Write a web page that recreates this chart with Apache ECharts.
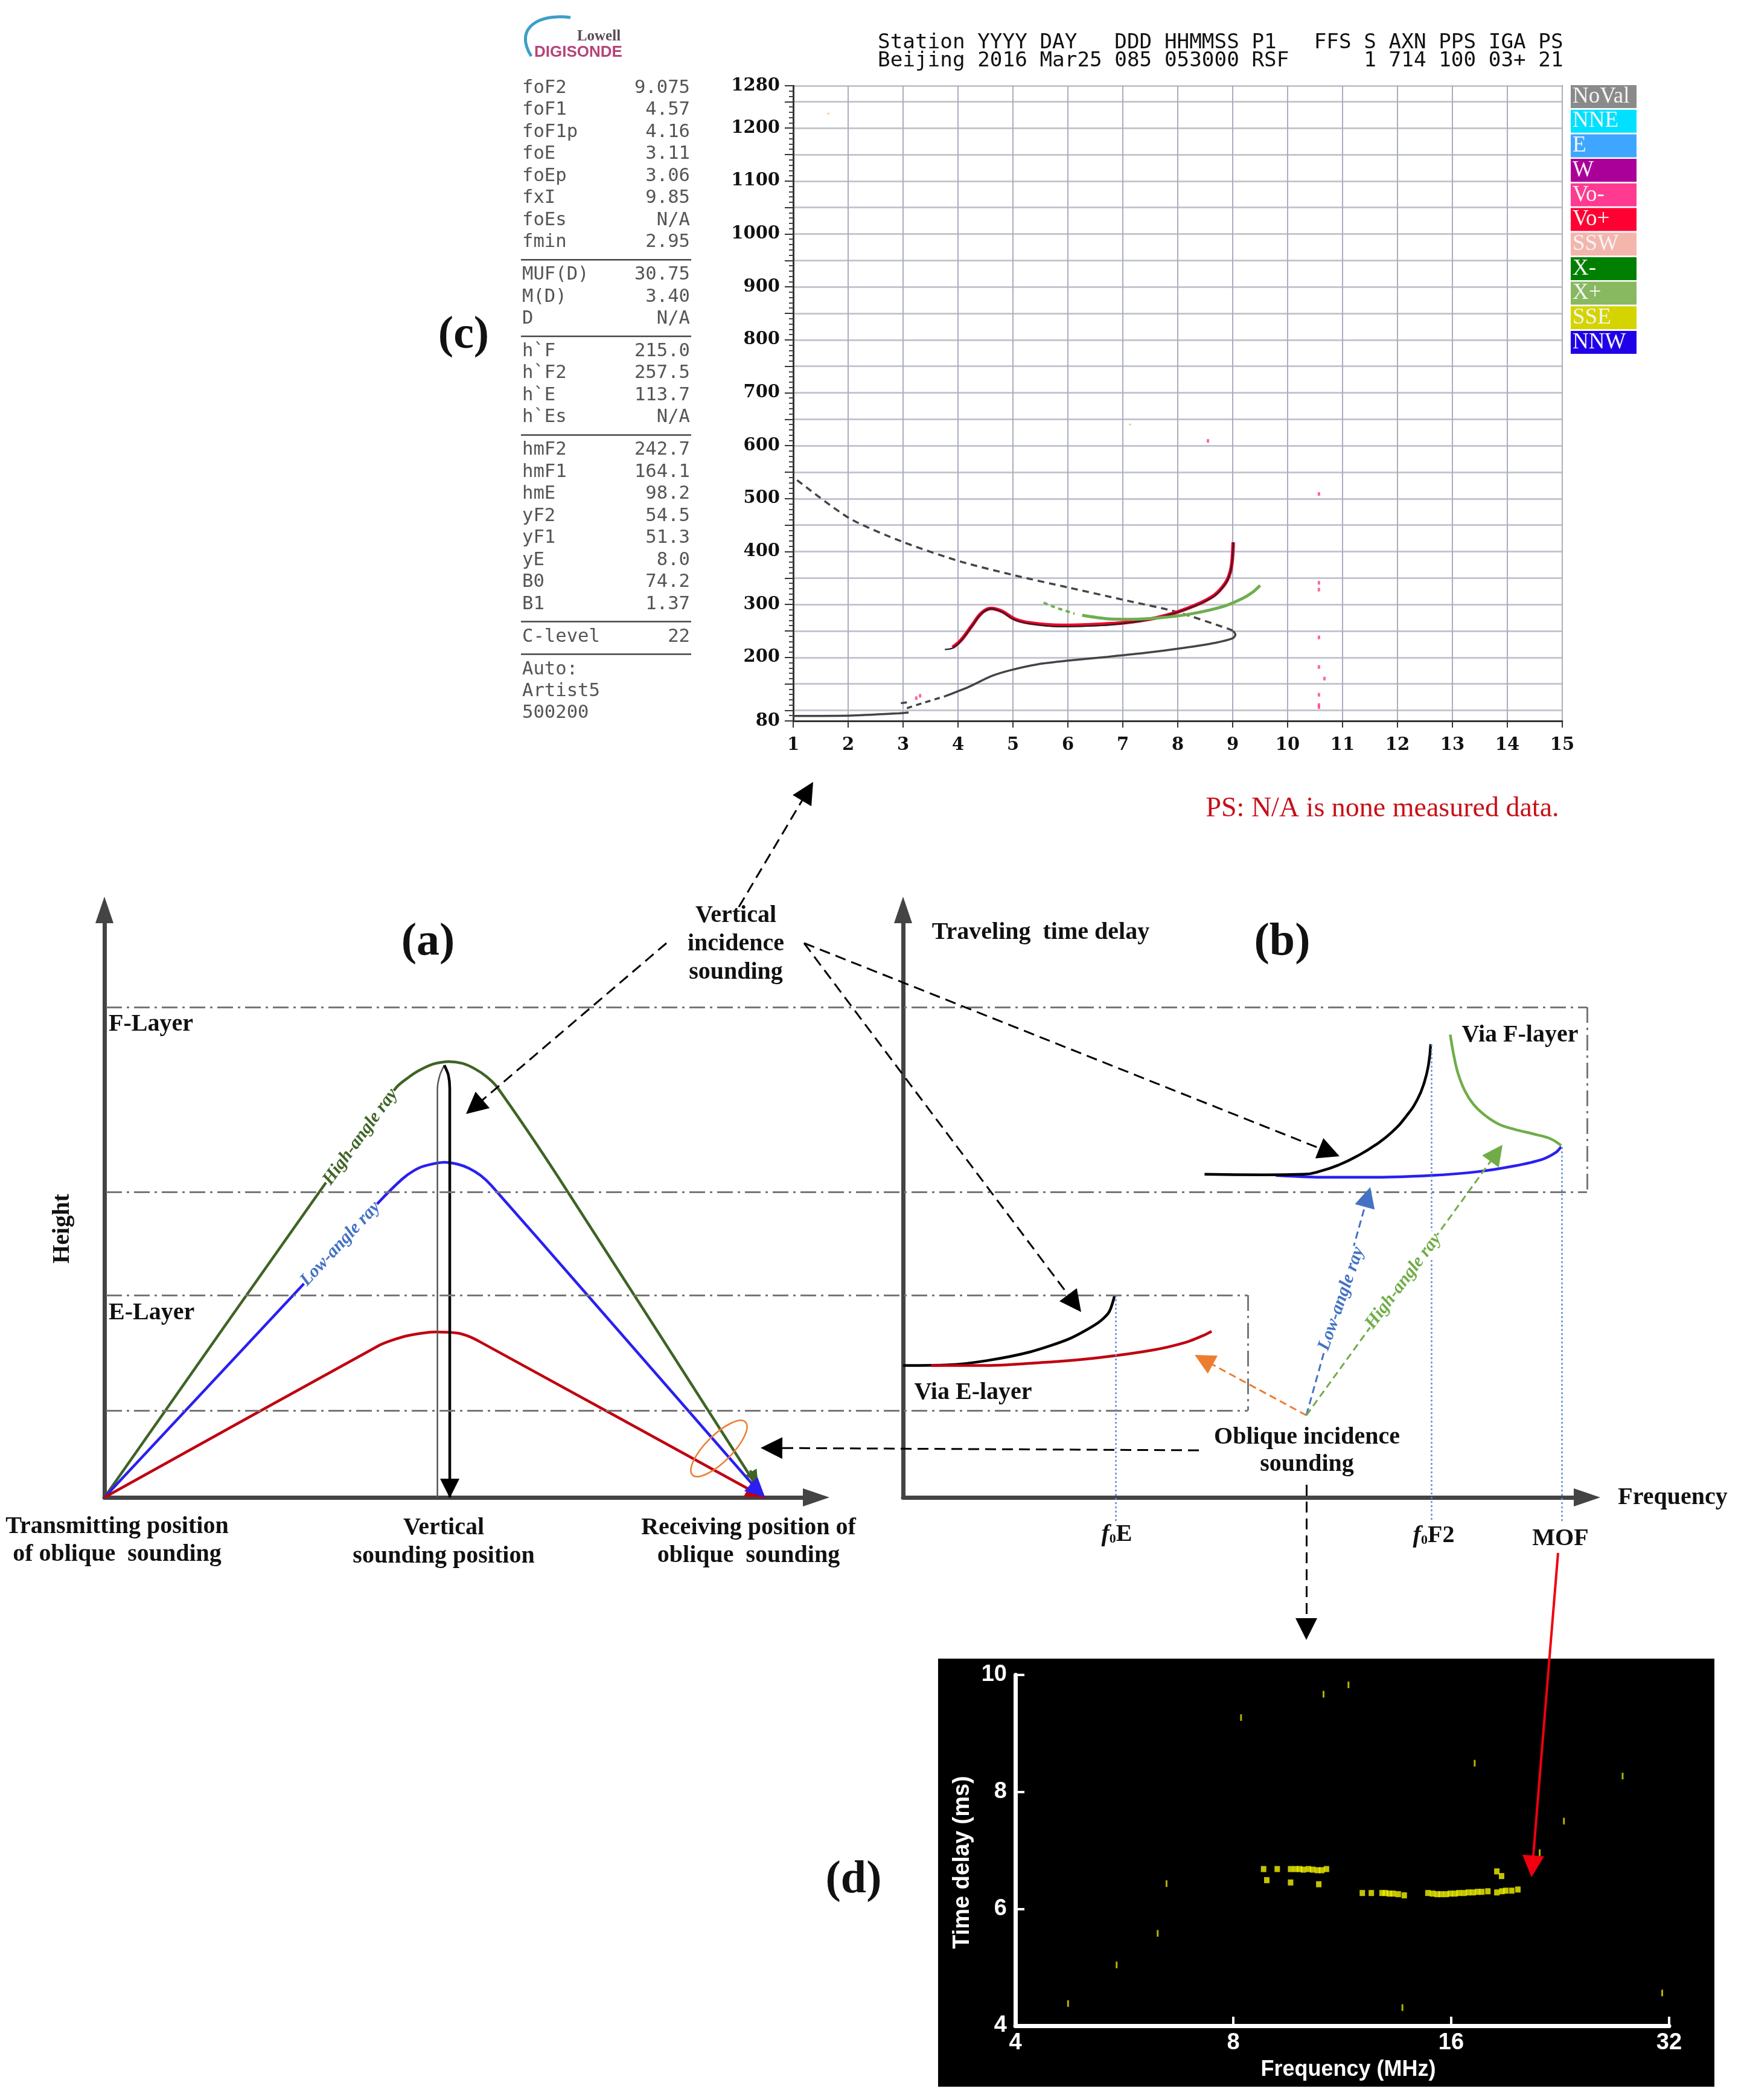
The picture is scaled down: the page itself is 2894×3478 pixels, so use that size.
<!DOCTYPE html>
<html>
<head>
<meta charset="utf-8">
<title>Ionospheric sounding</title>
<script src="https://cdn.jsdelivr.net/npm/echarts@6/dist/echarts.min.js"></script>
<style>
  html, body { margin: 0; background: #fff; }
  #chart { width: 2894px; height: 3478px; }
</style>
</head>
<body>
<div id="chart"></div>
<script>
// (c) ionogram: frequency MHz, virtual height km
const cFreqTicks = [1, 15];
const cHeightLabels = [80, 200, 300, 400, 500, 600, 700, 800, 900, 1000, 1100, 1200, 1280];
const cHeightGrid = [80, 100, 150, 200, 250, 300, 350, 400, 450, 500, 550, 600, 650, 700, 750, 800, 850, 900, 950, 1000, 1050, 1100, 1150, 1200, 1250, 1280];
const cEstimate = [[1.07, 535], [2.02, 463], [3, 418], [4.05, 381], [5.03, 355], [6.01, 332], [7, 309], [7.98, 286], [8.92, 254], [9.01, 250]];
const cProfileLow = [[1, 89.5], [2.02, 90], [2.93, 94.4], [3.1, 96]];
const cProfileGap = [[3.07, 104], [3.35, 113.5], [3.77, 126.8]];
const cProfileHigh = [[3.77, 126.8], [4.19, 144], [4.61, 164.8], [4.96, 176], [5.45, 187], [6.01, 194], [6.71, 201], [7.41, 208.5], [8.11, 218], [8.68, 227.5], [9, 236], [9.05, 243], [9.01, 250]];
const cETrace = [[2.96, 113.5], [3.07, 115]];
const cORay = [[3.76, 215], [3.91, 218], [4.05, 231], [4.26, 260], [4.43, 283], [4.61, 292], [4.79, 286.4], [5.03, 271], [5.31, 263.6], [5.87, 258], [6.57, 260], [7.06, 265], [7.55, 273], [7.97, 284.5], [8.33, 298], [8.5, 306], [8.68, 317], [8.8, 330], [8.9, 345], [8.96, 362], [8.99, 381], [9.01, 417.6]];
const cOEcho = [[3.9, 219], [4.05, 232], [4.26, 261], [4.43, 284], [4.6, 292.5], [4.8, 287], [5.03, 272.5], [5.31, 265], [5.87, 260.5], [6.57, 262.5], [7.06, 266], [7.55, 273.5], [7.97, 285], [8.33, 299], [8.5, 307], [8.68, 318.5], [8.8, 331], [8.9, 346], [8.96, 363], [8.99, 382], [9.01, 417.6]];
const cXRayDashed = [[5.56, 303.6], [5.73, 296], [6.12, 282.6]];
const cXRay = [[6.26, 279.6], [6.71, 273], [7.13, 272], [7.69, 275], [8.26, 282.6], [8.82, 296], [9.17, 311], [9.38, 324.5], [9.5, 336]];
const cVoPoints = [[10.57, 508.8], [10.57, 341], [10.57, 328], [10.57, 237.8], [10.57, 182], [10.57, 129.4], [10.57, 110], [10.57, 106], [10.67, 160], [8.55, 609], [3.24, 123], [3.31, 127.5]];
const cOtherPoints = [[1.64, 1227.5], [7.13, 640]];

const paramNames = ["foF2", "foF1", "foF1p", "foE", "foEp", "fxI", "foEs", "fmin", "MUF(D)", "M(D)", "D", "h`F", "h`F2", "h`E", "h`Es", "hmF2", "hmF1", "hmE", "yF2", "yF1", "yE", "B0", "B1", "C-level", "Auto:", "Artist5", "500200"];
const paramValues = ["9.075", "4.57", "4.16", "3.11", "3.06", "9.85", "N/A", "2.95", "30.75", "3.40", "N/A", "215.0", "257.5", "113.7", "N/A", "242.7", "164.1", "98.2", "54.5", "51.3", "8.0", "74.2", "1.37", "22", "", "", ""];
const paramRuleAfter = [7, 10, 14, 22, 23];
const legendNames = ["NoVal", "NNE", "E", "W", "Vo-", "Vo+", "SSW", "X-", "X+", "SSE", "NNW"];
const legendColors = ["#8a8a8a", "#00e1ff", "#3ea6ff", "#aa0099", "#ff3a90", "#ff0033", "#f4b5ad", "#007f00", "#88b860", "#d4d400", "#2000e8"];

// (a) ray paths: distance and height in schematic units
const aHighRay = [[0, 0], [30.2, 52], [40.2, 68.4], [41.8, 70], [43.3, 71.2], [45.3, 72.3], [47.4, 72.7], [49.3, 72.4], [51, 71.5], [52.6, 70.2], [54.1, 68.4], [62.5, 53.4], [90.8, 0]];
const aLowRay = [[0, 0], [27.2, 35.3], [37.9, 49.4], [41, 53.1], [42.6, 54.5], [44.1, 55.3], [46.8, 55.9], [48.6, 55.6], [50.2, 54.9], [51.8, 53.7], [53.3, 52], [66.4, 33.9], [90.8, 0]];
const aLowestRay = [[0, 0], [37.9, 25.4], [39.8, 26.3], [41.8, 27], [45.6, 27.6], [48.7, 27.4], [50.3, 26.8], [51.8, 25.9], [90.8, 0]];
const aVerticalUp = [[45.85, 0], [45.85, 68.2], [46.2, 70.5], [46.8, 72.1]];
const aVerticalDown = [[46.8, 72.1], [47.35, 70.5], [47.55, 68.2], [47.55, 0]];
const aArrowHighRay = [[88.9, 4.5], [89.5, 3.3]];
const aArrowLowRay = [[89, 2.25], [89.98, 1.14]];
const aArrowLowestRay = [[88.6, 1.46], [89.7, 0.73]];
const aArrowVertical = [[47.55, 6], [47.55, 1.5]];

// (b) delay against frequency in schematic units
const bEOrdinary = [[0, 22], [6.4, 22.1], [11.9, 22.8], [18.3, 24.3], [23.9, 26.5], [27.9, 29.1], [29.5, 30.9], [30.3, 33.6]];
const bELowRay = [[4, 22], [12, 22], [19.9, 22.5], [27.9, 23.3], [35.9, 24.6], [40.6, 25.9], [43, 27], [44.2, 27.7]];
const bFOrdinary = [[43.2, 53.9], [51.8, 53.8], [57.4, 53.9], [60, 54.5], [62.5, 55.5], [65, 56.9], [67.7, 58.8], [70.1, 61], [72.1, 63.6], [73.7, 66.4], [74.7, 69.3], [75.3, 72.3], [75.6, 75.6]];
const bFLowRay = [[53.4, 53.7], [59.8, 53.4], [67.7, 53.4], [75.7, 53.7], [82.1, 54.3], [87.6, 55.3], [91.6, 56.4], [93.6, 57.6], [94.3, 58.5]];
const bFHighRay = [[94.3, 58.7], [92.8, 59.8], [90.8, 60.5], [87.6, 61.4], [85.3, 62.3], [83.3, 63.8], [81.7, 65.6], [80.5, 67.8], [79.5, 70.8], [78.9, 73.8], [78.4, 77.2]];

// (d) oblique ionogram: frequency MHz, delay ms
const dFreqLabels = [4, 8, 16, 32];
const dNoise = [[4.73, 4.38], [5.52, 5.04], [6.29, 5.58], [6.47, 6.43], [8.2, 9.27], [10.66, 9.67], [11.54, 9.83], [17.24, 8.49], [27.6, 8.27], [22.9, 7.5], [21.2, 6.96], [13.7, 4.31], [31.3, 4.56]];
const dTrace = [[8.81, 6.68], [9.2, 6.68], [9.6, 6.68], [9.75, 6.68], [9.88, 6.68], [10, 6.67], [10.16, 6.68], [10.3, 6.67], [10.46, 6.66], [10.6, 6.66], [10.76, 6.68], [8.9, 6.49], [9.6, 6.45], [10.5, 6.42], [12.06, 6.27], [12.41, 6.27], [12.84, 6.27], [12.98, 6.27], [13.14, 6.26], [13.3, 6.26], [13.52, 6.25], [13.78, 6.23], [14.86, 6.27], [15.08, 6.26], [15.3, 6.25], [15.5, 6.25], [15.74, 6.25], [15.96, 6.26], [16.19, 6.26], [16.4, 6.27], [16.66, 6.27], [16.9, 6.28], [17.15, 6.28], [17.4, 6.29], [17.64, 6.29], [17.98, 6.3], [18.5, 6.28], [18.8, 6.3], [19.04, 6.31], [19.4, 6.31], [19.78, 6.33], [18.5, 6.64], [18.78, 6.56]];

const SERIF = '"Liberation Serif"';
const MONO = '"DejaVu Sans Mono"';
const SANS = '"Liberation Sans"';

function noAxis(gridIndex, min, max, inverse) {
    return { type: 'value', gridIndex: gridIndex, min: min, max: max, inverse: !!inverse, show: false };
}

// schematic axis: only the line with a filled head
function arrowAxis(gridIndex) {
    return {
        type: 'value', gridIndex: gridIndex, min: 0, max: 98,
        axisLine: { show: true, onZero: false, symbol: ['none', 'triangle'], symbolSize: [30, 44], lineStyle: { color: '#444', width: 7 } },
        axisTick: { show: false }, axisLabel: { show: false }, splitLine: { show: false }
    };
}

const C = { x: 0, y: 0 };
const A = { x: 1, y: 2 };
const B = { x: 2, y: 3 };
const D = { x: 3, y: 4 };
const O = { x: 4, y: 5 };

function curve(axes, data, color, width, extra) {
    return Object.assign({
        type: 'line', xAxisIndex: axes.x, yAxisIndex: axes.y, data: data, symbol: 'none', smooth: 0.25,
        lineStyle: { color: color, width: width }, z: 5
    }, extra || {});
}
function points(axes, data, color, size) {
    return { type: 'scatter', xAxisIndex: axes.x, yAxisIndex: axes.y, data: data, symbol: 'rect', symbolSize: size, itemStyle: { color: color }, z: 6 };
}
// pull the end back by half of the head, the symbol is centred on the point
function arrows(axes, list, color, width, type, size) {
    return {
        type: 'lines', coordinateSystem: 'cartesian2d', xAxisIndex: axes.x, yAxisIndex: axes.y,
        symbol: ['none', size ? 'triangle' : 'none'], symbolSize: size || 0, z: 8,
        lineStyle: { color: color, width: width, type: type, opacity: 1 },
        data: list.map(function (l) {
            if (!size || axes !== O) return { coords: [[l[0], l[1]], [l[2], l[3]]] };
            let dx = l[2] - l[0], dy = l[3] - l[1], len = Math.sqrt(dx * dx + dy * dy);
            return { coords: [[l[0], l[1]], [l[2] - dx / len * size / 2, l[3] - dy / len * size / 2]] };
        })
    };
}

const blackLeaders = [[1104, 1562, 772, 1845], [1224, 1502, 1347, 1295], [1332, 1562, 2219, 1915], [1332, 1562, 1791, 2173], [1986, 2402, 1260, 2398], [2164, 2459, 2164, 2716]];
const layerLines = [[176, 1668, 2629, 1668], [176, 1974, 2629, 1974], [2629, 1668, 2629, 1974], [176, 2145, 2067, 2145], [176, 2336, 2067, 2336], [2067, 2145, 2067, 2336]];
const freqDrops = [[1848, 2145, 1848, 2520], [2371, 1730, 2371, 2520], [2587, 1900, 2587, 2520]];

const series = [
    arrows(O, layerLines, '#777', 3, [26, 8, 4, 8]),
    arrows(O, freqDrops, '#5b8bd8', 2.5, [3, 4]),

    curve(C, cEstimate, '#444', 3.5, { lineStyle: { color: '#444', width: 3.5, type: [11, 8] } }),
    curve(C, cProfileLow, '#444', 3.5),
    curve(C, cProfileGap, '#444', 3.5, { lineStyle: { color: '#444', width: 3.5, type: [9, 7] } }),
    curve(C, cProfileHigh, '#444', 3.5),
    curve(C, cETrace, '#444', 3.5),
    curve(C, cOEcho, '#f0002d', 6, { smooth: 0.4 }),
    curve(C, cORay, '#222', 2.2, { smooth: 0.4 }),
    curve(C, cXRayDashed, '#70ad50', 4, { lineStyle: { color: '#70ad50', width: 4, type: [7, 6] } }),
    curve(C, cXRay, '#70ad50', 5),
    points(C, cVoPoints, '#ff3d8b', [4, 6]),
    points(C, cOtherPoints, '#ffb060', [3, 3]),

    curve(A, aHighRay, '#3f6426', 4.5),
    curve(A, aLowRay, '#2a1ff0', 4.5),
    curve(A, aLowestRay, '#c00010', 4.5),
    curve(A, aVerticalUp, '#555', 2.5),
    curve(A, aVerticalDown, '#000', 4.5),
    arrows(A, [aArrowHighRay[0].concat(aArrowHighRay[1])], '#3f6426', 4, 'solid', 22),
    arrows(A, [aArrowLowestRay[0].concat(aArrowLowestRay[1])], '#c00010', 4, 'solid', 30),
    arrows(A, [aArrowLowRay[0].concat(aArrowLowRay[1])], '#2a1ff0', 4, 'solid', 32),
    arrows(A, [aArrowVertical[0].concat(aArrowVertical[1])], '#000', 4, 'solid', 32),

    curve(B, bEOrdinary, '#000', 4.5),
    curve(B, bELowRay, '#c00010', 4.5),
    curve(B, bFLowRay, '#2a1ff0', 4.5),
    curve(B, bFOrdinary, '#000', 4.5, { smooth: 0.5 }),
    curve(B, bFHighRay, '#70ad47', 4.5, { smooth: 0.4 }),

    points(D, dNoise, '#e0e000', [3, 11]),
    points(D, dTrace, '#f4f400', [9, 10]),

    arrows(O, blackLeaders, '#000', 3, [18, 10], 36),
    arrows(O, [[2164, 2344, 1979, 2244]], '#ed7d31', 3, [12, 7], 34),
    arrows(O, [[2164, 2344, 2270, 1966]], '#4472c4', 3, [12, 7], 34),
    arrows(O, [[2164, 2344, 2489, 1896]], '#70ad47', 3, [12, 7], 34),
    arrows(O, [[2581, 2572, 2537, 3109]], '#f00010', 4, 'solid', 36)
];

function label(text, x, y, size, extra) {
    return {
        type: 'text', x: x, y: y, z: 20, rotation: (extra && extra.rotation) || 0,
        style: Object.assign({
            text: text, fontFamily: SERIF, fontSize: size, fontWeight: 'bold', fill: '#111', align: 'center', verticalAlign: 'middle'
        }, extra ? extra.style : {})
    };
}

// ray labels sit in a gap of their ray
function rayLabel(text, x, y, degrees, color) {
    return label(text, x, y, 30, { rotation: degrees * Math.PI / 180, style: { fontStyle: 'italic', fill: color, backgroundColor: '#fff' } });
}

function freqMark(main, x, y) {
    return {
        type: 'text', x: x, y: y, z: 20,
        style: {
            text: '{i|f}{s|0}{b|' + main + '}', align: 'center', verticalAlign: 'middle',
            rich: {
                i: { fontFamily: SERIF, fontSize: 40, fontWeight: 'bold', fontStyle: 'italic', fill: '#111' },
                s: { fontFamily: SERIF, fontSize: 22, fontWeight: 'bold', fill: '#111', padding: [14, 0, 0, 0] },
                b: { fontFamily: SERIF, fontSize: 40, fontWeight: 'bold', fill: '#111' }
            }
        }
    };
}

const graphics = [
    { type: 'rect', z: -10, shape: { x: 1554, y: 2747, width: 1286, height: 709 }, style: { fill: '#000' } },

    { type: 'bezierCurve', z: 20, shape: { x1: 880, y1: 93, cpx1: 850, cpy1: 45, cpx2: 895, cpy2: 22, x2: 945, y2: 29 }, style: { stroke: '#3d9ec9', lineWidth: 5, fill: 'none' } },
    label('Lowell', 992, 61, 25, { style: { fill: '#5a4a55' } }),
    label('DIGISONDE', 958, 87, 26, { style: { fill: '#b5447a', fontFamily: SANS } }),

    label('Station YYYY DAY   DDD HHMMSS P1   FFS S AXN PPS IGA PS', 1454, 71, 34.3, { style: { fontFamily: MONO, fontWeight: 'normal', align: 'left' } }),
    label('Beijing 2016 Mar25 085 053000 RSF      1 714 100 03+ 21', 1454, 101, 34.3, { style: { fontFamily: MONO, fontWeight: 'normal', align: 'left' } }),

    label('(a)', 709, 1561, 76),
    label('(b)', 2124, 1561, 76),
    label('(c)', 768, 556, 76),
    label('(d)', 1414, 3114, 76),

    label('PS: N/A is none measured data.', 2290, 1340, 46, { style: { fontWeight: 'normal', fill: '#c81018' } }),

    label('F-Layer', 180, 1697, 40, { style: { align: 'left' } }),
    label('E-Layer', 180, 2175, 40, { style: { align: 'left' } }),
    label('Height', 104, 2035, 40, { rotation: Math.PI / 2 }),
    label('Transmitting position', 194, 2529, 40),
    label('of oblique  sounding', 194, 2575, 40),
    label('Vertical', 735, 2531, 40),
    label('sounding position', 735, 2578, 40),
    label('Receiving position of', 1240, 2531, 40),
    label('oblique  sounding', 1240, 2577, 40),
    label('Vertical', 1219, 1517, 40),
    label('incidence', 1219, 1564, 40),
    label('sounding', 1219, 1611, 40),
    rayLabel('High-angle ray', 597, 1883, 53.8, '#3f6426'),
    rayLabel('Low-angle ray', 564, 2060, 47, '#4472c4'),
    rayLabel('Low-angle ray', 2222, 2151, 70.8, '#4472c4'),
    rayLabel('High-angle ray', 2325, 2122, 53, '#70ad47'),

    label('Traveling  time delay', 1724, 1545, 40),
    label('Via F-layer', 2518, 1715, 40),
    label('Via E-layer', 1612, 2307, 40),
    label('Oblique incidence', 2165, 2381, 40),
    label('sounding', 2165, 2426, 40),
    label('Frequency', 2771, 2481, 40),
    label('MOF', 2585, 2549, 40),
    freqMark('E', 1850, 2542),
    freqMark('F2', 2375, 2544),

    { type: 'ellipse', z: 9, x: 1191, y: 2399, rotation: Math.PI / 4, shape: { cx: 0, cy: 0, rx: 62, ry: 22 }, style: { fill: 'none', stroke: '#ed7d31', lineWidth: 2.5 } }
];

// parameter table left of the ionogram
let rowY = 146;
paramNames.forEach(function (name, i) {
    graphics.push(label(name, 865, rowY, 30.6, { style: { fontFamily: MONO, fontWeight: 'normal', fill: '#555', align: 'left' } }));
    if (paramValues[i]) {
        graphics.push(label(paramValues[i], 1143, rowY, 30.6, { style: { fontFamily: MONO, fontWeight: 'normal', fill: '#555', align: 'right' } }));
    }
    if (paramRuleAfter.indexOf(i) >= 0) {
        graphics.push({ type: 'line', z: 20, shape: { x1: 863, y1: rowY + 29, x2: 1145, y2: rowY + 29 }, style: { stroke: '#444', lineWidth: 2.5 } });
        rowY += 54;
    } else {
        rowY += 36.45;
    }
});

legendNames.forEach(function (name, i) {
    let top = 141 + i * 40.7;
    graphics.push({ type: 'rect', z: 20, shape: { x: 2602, y: top, width: 109, height: 38 }, style: { fill: legendColors[i] } });
    graphics.push(label(name, 2605, top + 19, 37, { style: { fontWeight: 'normal', fill: '#f4f4f4', align: 'left' } }));
});

const option = {
    animation: false,
    backgroundColor: '#fff',
    grid: [
        { left: 1314, top: 142, width: 1274, height: 1052, show: true, borderColor: '#555', borderWidth: 2, containLabel: false },
        { left: 173, top: 1507, width: 1179, height: 973 },
        { left: 1496, top: 1507, width: 1133, height: 973 },
        { left: 1682, top: 2774, width: 1083, height: 581 },
        { left: 0, top: 0, width: 2894, height: 3478 }
    ],
    xAxis: [
        {
            type: 'value', gridIndex: 0, min: cFreqTicks[0], max: cFreqTicks[1], interval: 1, position: 'bottom',
            axisLine: { show: true, onZero: false, lineStyle: { color: '#333', width: 3 } },
            axisTick: { show: true, length: 11, lineStyle: { color: '#333', width: 2 } },
            axisLabel: { show: true, margin: 26, color: '#111', fontFamily: '"DejaVu Serif"', fontWeight: 'bold', fontSize: 29 },
            splitLine: { show: true, lineStyle: { color: '#a9adbe', width: 2 } }
        },
        arrowAxis(1),
        arrowAxis(2),
        {
            type: 'log', logBase: 2, gridIndex: 3, min: dFreqLabels[0], max: dFreqLabels[3], position: 'bottom',
            name: 'Frequency (MHz)', nameLocation: 'middle', nameGap: 55,
            nameTextStyle: { color: '#fff', fontFamily: SANS, fontWeight: 'bold', fontSize: 36, padding: [0, 0, 0, 20] },
            axisLine: { show: true, onZero: false, lineStyle: { color: '#fff', width: 7 } },
            axisTick: { show: true, inside: true, length: 15, lineStyle: { color: '#fff', width: 4 } },
            axisLabel: { show: true, margin: 10, color: '#fff', fontFamily: SANS, fontWeight: 'bold', fontSize: 38 },
            splitLine: { show: false }, minorTick: { show: false }
        },
        noAxis(4, 0, 2894)
    ],
    yAxis: [
        {
            type: 'value', gridIndex: 0, min: 80, max: 1280, interval: 10, position: 'left',
            axisLine: { show: true, onZero: false, lineStyle: { color: '#333', width: 3 } },
            axisTick: { show: true, length: 7, lineStyle: { color: '#444', width: 2 } },
            axisLabel: { show: false }, splitLine: { show: false }
        },
        {
            type: 'value', gridIndex: 0, min: 80, max: 1280, position: 'left',
            axisLine: { show: false, onZero: false },
            axisTick: { show: true, length: 14, customValues: cHeightGrid, lineStyle: { color: '#333', width: 2 } },
            axisLabel: {
                show: true, margin: 22, customValues: cHeightLabels, color: '#111', fontFamily: '"DejaVu Serif"', fontWeight: 'bold', fontSize: 29,
                formatter: function (v) { return String(v); }
            },
            splitLine: { show: true, lineStyle: { color: '#c4c6d0', width: 3 } }
        },
        arrowAxis(1),
        arrowAxis(2),
        {
            type: 'value', gridIndex: 3, min: 4, max: 10, interval: 2, position: 'left',
            name: 'Time delay (ms)', nameLocation: 'middle', nameGap: 68,
            nameTextStyle: { color: '#fff', fontFamily: SANS, fontWeight: 'bold', fontSize: 38, padding: [0, 40, 0, 0] },
            axisLine: { show: true, onZero: false, lineStyle: { color: '#fff', width: 7 } },
            axisTick: { show: true, inside: true, length: 15, lineStyle: { color: '#fff', width: 4 } },
            axisLabel: { show: true, margin: 14, color: '#fff', fontFamily: SANS, fontWeight: 'bold', fontSize: 38 },
            splitLine: { show: false }
        },
        noAxis(4, 0, 3478, true)
    ],
    series: series,
    graphic: { elements: graphics }
};

const myChart = echarts.init(document.getElementById('chart'), null, { renderer: 'canvas', width: 2894, height: 3478 });
myChart.setOption(option);
</script>
</body>
</html>
